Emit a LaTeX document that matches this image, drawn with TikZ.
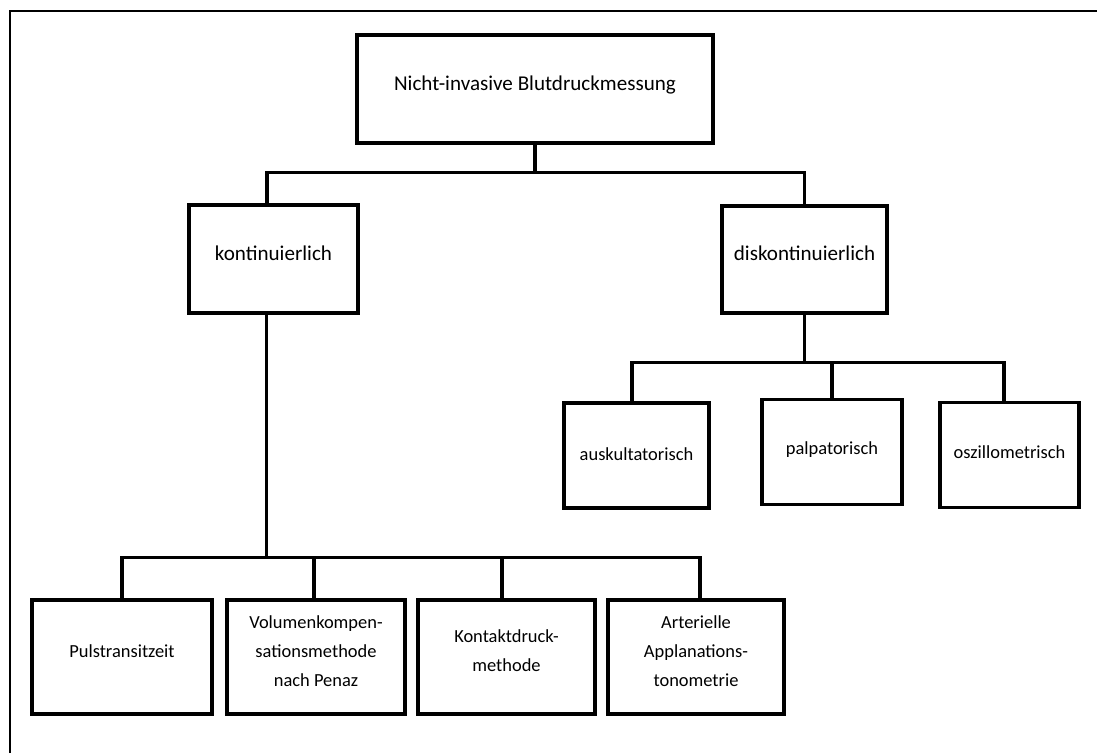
\documentclass[tikz,border=0pt]{standalone}
\usepackage{fontspec}
\setmainfont{Carlito}
\usetikzlibrary{positioning}

\begin{document}
\begin{tikzpicture}[
    x=0.02cm, y=-0.02cm,
    box/.style={rectangle, draw=black, line width=1.8pt, align=center, inner sep=2pt, text depth=0.25cm, font=\fontsize{12}{15}\selectfont},
    leaf/.style={box, minimum height=2.1cm, font=\fontsize{10.5}{16.5}\selectfont},
    link/.style={line width=1.8pt}
]
\useasboundingbox (0,0) rectangle (1097,753);
% Frame
\draw[line width=1.3pt] (10,753) -- (10,11) -- (1097,11);

% Level 1
\node[box, minimum width=7.12cm, minimum height=2.16cm] (root) at (535,89) {Nicht-invasive Blutdruckmessung};

% Level 2
\node[box, minimum width=3.38cm, minimum height=2.16cm] (kont) at (273.5,259) {kontinuierlich};
\node[box, minimum width=3.3cm, minimum height=2.14cm] (disk) at (804.5,259.5) {diskontinuierlich};

% Level 3 (diskontinuierlich)
\node[leaf, minimum width=2.9cm, text depth=0.07cm] (ausk) at (636.5,455.5) {auskultatorisch};
\node[leaf, minimum width=2.8cm, text depth=0.15cm] (palp) at (832,452) {palpatorisch};
\node[leaf, minimum width=2.78cm, text depth=0.1cm] (oszi) at (1009.5,455) {oszillometrisch};

% Level 3 (kontinuierlich)
\node[leaf, minimum width=3.6cm, minimum height=2.28cm] (puls) at (122,657) {Pulstransitzeit};
\node[leaf, minimum width=3.56cm, minimum height=2.28cm] (penaz) at (316,657) {Volumenkompen-\\sationsmethode\\nach Penaz};
\node[leaf, minimum width=3.54cm, minimum height=2.28cm] (kontakt) at (506.5,657) {Kontaktdruck-\\methode};
\node[leaf, minimum width=3.52cm, minimum height=2.28cm] (appl) at (696,657) {Arterielle\\Applanations-\\tonometrie};

% Connectors
\draw[link] (root.south) -- ++(0,28) -| ([xshift=-0.13cm]kont.north);
\draw[link] (root.south) -- ++(0,28) -| (disk.north);

\draw[link] (disk.south) -- ++(0,48) -| ([xshift=-0.09cm]ausk.north);
\draw[link] (disk.south) -- ++(0,48) -| (palp.north);
\draw[link] (disk.south) -- ++(0,48) -| ([xshift=-0.11cm]oszi.north);

\draw[link] ([xshift=-0.14cm]kont.south) -- ++(0,243) -| (puls.north);
\draw[link] ([xshift=-0.14cm]kont.south) -- ++(0,243) -| ([xshift=-0.04cm]penaz.north);
\draw[link] ([xshift=-0.14cm]kont.south) -- ++(0,243) -| ([xshift=-0.09cm]kontakt.north);
\draw[link] ([xshift=-0.14cm]kont.south) -- ++(0,243) -| ([xshift=0.08cm]appl.north);
\end{tikzpicture}
\end{document}
